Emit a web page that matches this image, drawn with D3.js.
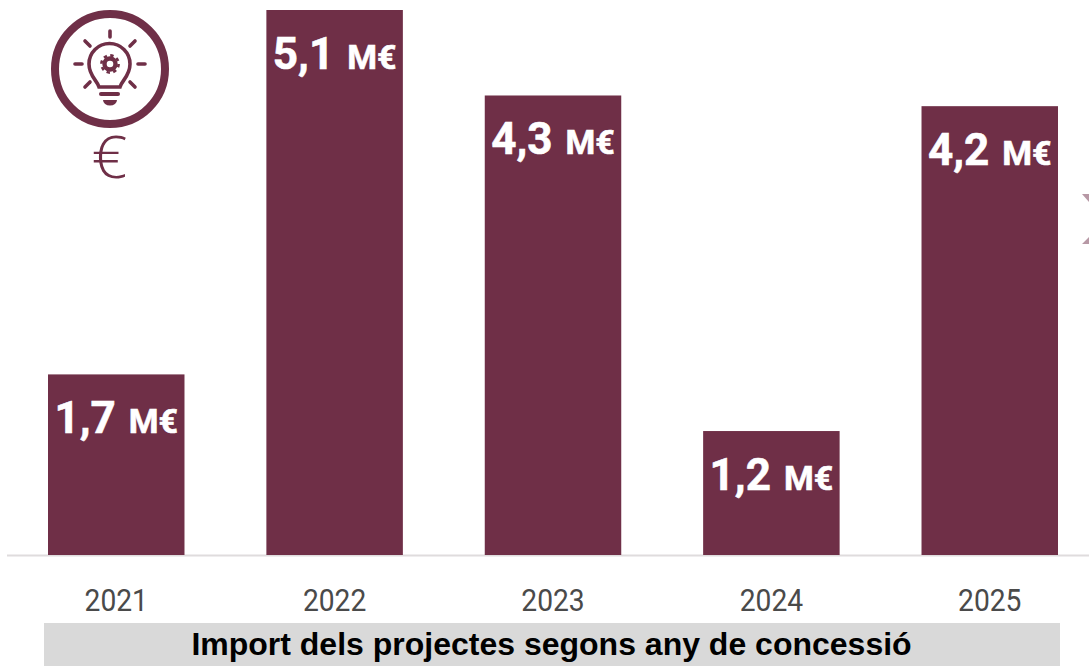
<!DOCTYPE html>
<html>
<head>
<meta charset="utf-8">
<script src="https://cdn.jsdelivr.net/npm/d3@7"></script>
<style>
  html, body { margin: 0; padding: 0; background: #fff; overflow: hidden; }
</style>
</head>
<body>
<div id="chart"></div>
<script>
const years = ['2021', '2022', '2023', '2024', '2025'];
const amounts = [1.69, 5.1, 4.3, 1.16, 4.2];
const chartTitle = 'Import dels projectes segons any de concessió';

const width = 1089;
const height = 666;
const baseline = 555;
const wine = '#6f2f47';

const svg = d3.select('#chart').append('svg')
  .attr('width', width)
  .attr('height', height)
  .attr('viewBox', `0 0 ${width} ${height}`)
  .style('display', 'block');

const x = d3.scaleBand().domain(years).range([48, 1058]).paddingInner(0.375).paddingOuter(0);
const y = d3.scaleLinear().domain([0, 5.1]).range([baseline, 10]);

// tip of the chevron cut off at the right edge
svg.append('path')
  .attr('d', 'M1082,194 L1089,194 L1089,202 Z M1082,244 L1089,244 L1089,237 Z')
  .attr('fill', '#b798a5');

// baseline
svg.append('line')
  .attr('x1', 7).attr('x2', width)
  .attr('y1', baseline + 0.5).attr('y2', baseline + 0.5)
  .attr('stroke', '#dfdcdd')
  .attr('stroke-width', 2);

svg.selectAll('rect.bar')
  .data(amounts)
  .enter().append('rect')
  .attr('class', 'bar')
  .attr('x', (d, i) => x(years[i]))
  .attr('y', d => y(d))
  .attr('width', x.bandwidth())
  .attr('height', d => baseline - y(d))
  .attr('fill', wine);

// value labels: big number + small unit
const labels = svg.selectAll('g.value')
  .data(amounts)
  .enter().append('g')
  .attr('class', 'value')
  .attr('transform', (d, i) => `translate(${x(years[i]) + x.bandwidth() / 2}, ${y(d) + 58.5})`);

const label = labels.append('text')
  .attr('text-anchor', 'middle')
  .attr('fill', '#fff')
  .attr('stroke', '#fff')
  .attr('stroke-width', 0.6)
  .attr('font-family', 'Roboto, sans-serif')
  .attr('font-weight', 700);

label.append('tspan')
  .attr('font-size', 44)
  .text(d => d.toFixed(1).replace('.', ','));

label.append('tspan')
  .attr('font-size', 34)
  .attr('dx', 13)
  .text('M€');

// x axis
const xAxis = svg.append('g')
  .attr('transform', `translate(0, ${baseline})`)
  .call(d3.axisBottom(x).tickSize(0).tickPadding(0));
xAxis.select('.domain').remove();
xAxis.selectAll('text')
  .attr('font-family', 'Roboto, sans-serif')
  .attr('font-size', 31)
  .attr('fill', '#4a4a4a')
  .attr('text-anchor', 'middle')
  .attr('dy', 0)
  .attr('y', 0)
  .attr('transform', 'translate(0, 56) scale(0.91, 1)');

// title band
svg.append('rect')
  .attr('x', 44).attr('y', 623)
  .attr('width', 1016).attr('height', 43)
  .attr('fill', '#d9d9d9');

svg.append('text')
  .attr('x', 551.5).attr('y', 655)
  .attr('text-anchor', 'middle')
  .attr('font-family', '"Liberation Sans", Arial, sans-serif')
  .attr('font-weight', 700)
  .attr('font-size', 32)
  .attr('fill', '#000')
  .text(chartTitle);

// lightbulb icon
const icon = svg.append('g')
  .attr('fill', 'none')
  .attr('stroke', wine)
  .attr('stroke-linecap', 'round');

icon.append('circle')
  .attr('cx', 110).attr('cy', 69).attr('r', 55)
  .attr('stroke-width', 8);

icon.append('path')
  .attr('stroke-width', 3.6)
  .attr('d', 'M99,87 C97,80 89,76 89,64 A20.5,20.5 0 1 1 130,64 C130,76 122,80 120,87 Z');

const rays = [[110, 31, 110, 37], [85, 41, 90, 46], [135, 41, 130, 46], [75, 64, 82, 64], [138, 64, 145, 64], [85, 87, 90, 82], [135, 87, 130, 82]];
icon.selectAll('line.ray')
  .data(rays)
  .enter().append('line')
  .attr('class', 'ray')
  .attr('x1', d => d[0]).attr('y1', d => d[1])
  .attr('x2', d => d[2]).attr('y2', d => d[3])
  .attr('stroke-width', 3.6);

icon.append('line')
  .attr('x1', 101).attr('x2', 118)
  .attr('y1', 94).attr('y2', 94)
  .attr('stroke-width', 4);

icon.append('path')
  .attr('stroke', 'none')
  .attr('fill', wine)
  .attr('d', 'M103,100 L117,100 A7,5.5 0 0 1 103,100 Z');

// gear
icon.append('circle')
  .attr('cx', 110).attr('cy', 64).attr('r', 5.5)
  .attr('stroke-width', 4.4);
icon.append('circle')
  .attr('cx', 110).attr('cy', 64).attr('r', 8.6)
  .attr('stroke-width', 2.6)
  .attr('stroke-linecap', 'butt')
  .attr('stroke-dasharray', '3.4 3.35');

svg.append('text')
  .attr('transform', 'translate(109.5, 178) scale(1.08, 1)')
  .attr('text-anchor', 'middle')
  .attr('font-family', '"Open Sans", sans-serif')
  .attr('font-weight', 300)
  .attr('font-size', 58)
  .attr('fill', wine)
  .text('€');
</script>
</body>
</html>
